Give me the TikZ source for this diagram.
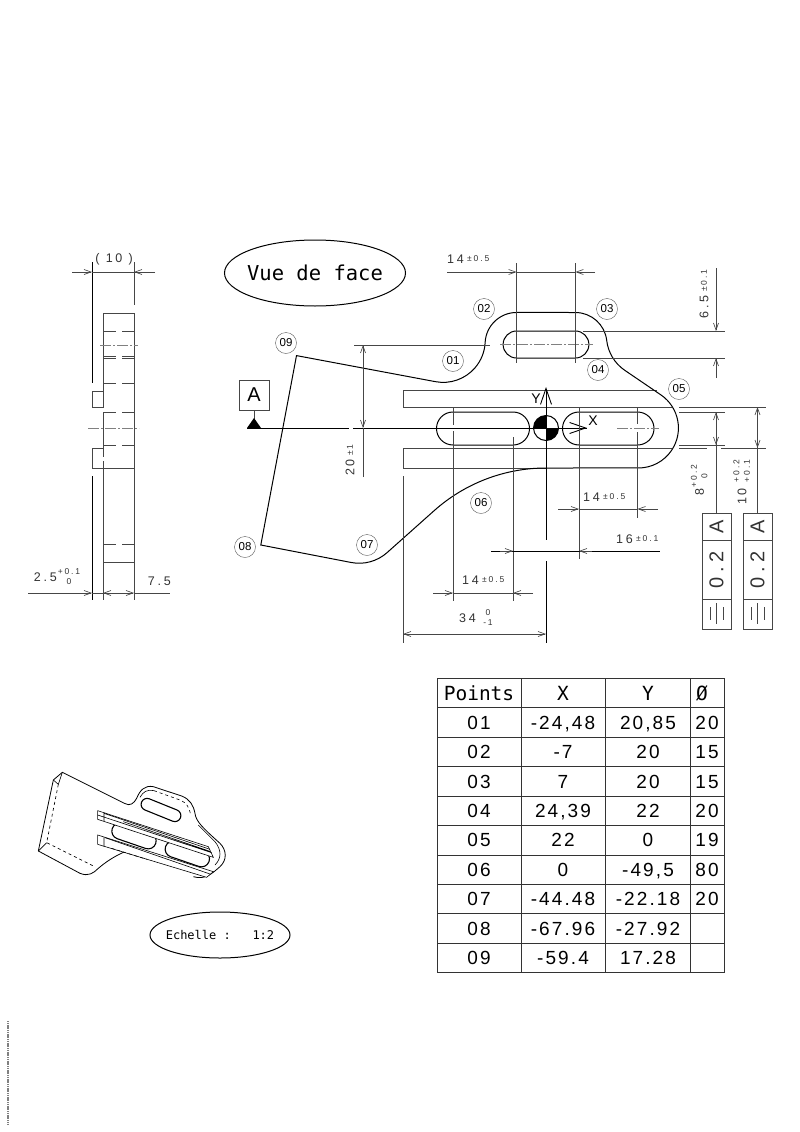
\documentclass[tikz,border=0pt]{standalone}
\usepackage{fontspec}
\setmainfont{Liberation Sans}
\newfontfamily\monoFont{DejaVu Sans Mono}
\newfontfamily\spacedFont[LetterSpace=22]{Liberation Sans}
\newfontfamily\tableFont[LetterSpace=11]{Liberation Sans}
\usetikzlibrary{arrows.meta}
\definecolor{dimColor}{RGB}{70,70,70}
\tikzstyle{drawing} = [x = 1pt, y = -1pt, line cap = butt]
\tikzstyle{partLine} = [color=black, line width=1pt]
\tikzstyle{thinLine} = [color=dimColor, line width=.65pt]
\tikzstyle{centerLine} = [color=gray, line width=.6pt, dash pattern=on 11pt off 2pt on 2pt off 2pt]
\tikzstyle{dimTip} = [color=dimColor, line width=.65pt, -{Straight Barb[length=7pt,width=5pt]}]
\tikzstyle{axisTip} = [color=black, line width=.9pt, -{Straight Barb[length=16pt,width=11pt]}]
\tikzstyle{balloonStyle} = [draw=black!65, circle, minimum size=21pt, inner sep=0pt, font=\fontsize{11.5}{12}\selectfont]
\tikzstyle{dimMain} = [color=black!80, inner sep=0pt, anchor=east, font=\fontsize{12.5}{13}\spacedFont]
\tikzstyle{dimSmall} = [color=black!80, inner sep=0pt, font=\fontsize{8.5}{9}\spacedFont]
\tikzstyle{cellText} = [inner sep=0pt, anchor=base, font=\fontsize{19}{20}\tableFont]
\tikzstyle{cellHead} = [inner sep=0pt, anchor=base, font=\fontsize{19.5}{20}\monoFont]
\tikzstyle{isoLine} = [color=black, line width=.6pt]
\tikzstyle{isoSlot} = [color=black, line width=1.1pt]
\tikzstyle{titleText} = [inner sep=0pt, font=\monoFont]
\newcommand{\balloon}[3]{\node [balloonStyle] (balloon#3) at (#1,#2) {#3};}
\newcommand{\hiddenLine}[1]{\draw [thinLine] (103,#1) -- (116,#1) (122,#1) -- (134,#1);}
\newcommand{\slotShape}[4]{\draw (#1,#3-#4) -- (#2,#3-#4) arc [start angle=-90, end angle=90, radius=#4] -- (#1,#3+#4) arc [start angle=90, end angle=270, radius=#4] -- cycle;}
\newcommand{\dimLabel}[6]{
  \begin{scope}[shift={(#1,#2)}, rotate=#3, every node/.style={transform shape}]
    \node [dimMain] (#6Main) at (0,0) {#4};
    \node [dimSmall, anchor=west] (#6Tol) at (3,0) {#5};
  \end{scope}
}
\newcommand{\stackLabel}[8]{
  \begin{scope}[shift={(#1,#2)}, rotate=#3, every node/.style={transform shape}]
    \node [dimMain] (#8Main) at (0,0) {#4};
    \node [dimSmall] (#8Upper) at (#7,-5.5) {#5};
    \node [dimSmall] (#8Lower) at (#7,5) {#6};
  \end{scope}
}
\newcommand{\toleranceBox}[2]{
  \draw [thinLine] (#1-14.5,513) rectangle (#1+14.5,629);
  \draw [thinLine] (#1-14.5,540) -- (#1+14.5,540);
  \draw [thinLine] (#1-14.5,599) -- (#1+14.5,599);
  \node [rotate=90, inner sep=0pt, color=black!80, font=\fontsize{20}{20}\selectfont] (#2Datum) at (#1,527) {A};
  \node [rotate=90, inner sep=0pt, color=black!80, font=\fontsize{20}{20}\spacedFont] (#2Value) at (#1,570) {0.2};
  \draw [thinLine] (#1-6,607) -- (#1-6,620);
  \draw [thinLine] (#1,603) -- (#1,624);
  \draw [thinLine] (#1+6.5,607) -- (#1+6.5,620);
}
\newcommand{\tableRow}[5]{
  \pgfmathsetmacro{\rowY}{678.3 + 29.43 * #1 + 21.5}
  \node [cellText] (point#1) at (479,\rowY) {#2};
  \node [cellText] (valueX#1) at (563,\rowY) {#3};
  \node [cellText] (valueY#1) at (648,\rowY) {#4};
  \node [cellText] (diam#1) at (707,\rowY) {#5};
}
\begin{document}
\begin{tikzpicture}[drawing]
  \useasboundingbox (0,0) rectangle (800,1132);

  % side view
  \draw [partLine] (92,262) -- (92,383) (92,476) -- (92,600);
  \draw [thinLine] (103,313) -- (134,313) (103,313) -- (103,408) (103,413) -- (103,457) (103,461) -- (103,600) (134,313) -- (134,600) (134,262) -- (134,305);
  \draw [thinLine] (103,391) -- (92,391) -- (92,407) -- (103,407);
  \draw [thinLine] (103,448) -- (92,448) -- (92,468) -- (134,468);
  \draw [thinLine] (103,562) -- (134,562);
  \foreach \y in {331,356,358,383,412,445,544} {
    \hiddenLine{\y}
  }
  \draw [centerLine] (100,345) -- (138,345);
  \draw [centerLine] (88,428) -- (139,428);
  \draw [thinLine] (92,272) -- (134,272);
  \draw [dimTip] (72,272) -- (92,272);
  \draw [dimTip] (155,272) -- (134,272);
  \node [dimMain] (widthLabel) at (133,259) {( 10 )};
  \draw [dimTip] (28,593) -- (92,593);
  \draw [thinLine] (92,593) -- (103,593) (134,593) -- (170,593);
  \draw [dimTip] (118,593) -- (103,593);
  \draw [dimTip] (118,593) -- (134,593);
  \stackLabel{57}{577}{0}{2.5}{+0.1}{0}{12}{lipDepth}
  \dimLabel{171}{581}{0}{7.5}{}{baseDepth}

  % front view
  \draw [partLine] (315,273) ellipse [x radius=90.5, y radius=33];
  \node [titleText, font=\fontsize{20.5}{22}\monoFont] (viewTitle) at (315,273) {Vue de face};
  \draw [thinLine] (403,407) -- (403,390.5) -- (657,390.5);
  \draw [thinLine] (403,407) -- (672,407);
  \draw [thinLine] (672,448) -- (403,448) -- (403,468) -- (546,468);
  \draw [partLine] (296.5,355.6) -- (435.4,381.65)
    arc [start angle=100.7, end angle=2.8, radius=42]
    arc [start angle=182.8, end angle=270, radius=31.5] -- (575.4,312.5)
    arc [start angle=270, end angle=353.44, radius=31.5]
    arc [start angle=173.44, end angle=124.2, radius=42] -- (660.9,394.9)
    arc [start angle=-55.8, end angle=90, radius=40] -- (546,468)
    arc [start angle=270, end angle=228.3, radius=168] -- (387.1,552.6)
    arc [start angle=48.3, end angle=101, radius=42] -- (260.8,545) -- cycle;
  \begin{scope}[partLine]
    \slotShape{516.6}{575.4}{344.5}{13.5}
    \slotShape{453}{513}{428.5}{16.5}
    \slotShape{579}{637.5}{428.5}{16.5}
  \end{scope}
  \draw [centerLine] (500,344.5) -- (593,344.5);
  \draw [partLine] (247,428) -- (349,428) (353,428) -- (587,428);
  \draw [centerLine] (617,428) -- (659,428);
  \draw [thinLine] (254,410) -- (254,420);
  \draw [thinLine] (239,380) rectangle (269,410);
  \node [inner sep=0pt, font=\fontsize{20}{20}\selectfont] (datumLabel) at (254,395) {A};
  \fill (254,418) -- (261,428) -- (247,428) -- cycle;
  \draw [axisTip] (546,403) -- (546,387);
  \draw [thinLine, color=black] (546,403) -- (546,540) (546,561) -- (546,643);
  \draw [axisTip] (570,428) -- (587,428);
  \node [inner sep=0pt, font=\fontsize{14}{14}\selectfont] (axisY) at (536,399) {Y};
  \node [inner sep=0pt, font=\fontsize{14}{14}\selectfont] (axisX) at (593,421) {X};
  \draw [partLine] (546,428) circle (12.5);
  \fill (546,428) -- (533.5,428) arc [start angle=180, end angle=270, radius=12.5] -- cycle;
  \fill (546,428) -- (558.5,428) arc [start angle=0, end angle=90, radius=12.5] -- cycle;

  % dimensions of the front view
  \draw [thinLine] (516.6,263) -- (516.6,363) (575.4,263) -- (575.4,363);
  \draw [thinLine] (516.6,272) -- (575.4,272);
  \draw [dimTip] (447,272) -- (516.6,272);
  \draw [dimTip] (595,272) -- (575.4,272);
  \dimLabel{464}{259}{0}{14}{±0.5}{slotWidth}
  \draw [thinLine] (583,331) -- (725,331) (583,358) -- (725,358);
  \draw [dimTip] (716,268) -- (716,331);
  \draw [dimTip] (716,378) -- (716,358);
  \dimLabel{704}{295}{90}{6.5}{±0.1}{slotHeight}
  \draw [thinLine] (354,345) -- (490,345);
  \draw [thinLine] (363,477) -- (363,428);
  \draw [dimTip] (363,385) -- (363,345);
  \draw [dimTip] (363,385) -- (363,428);
  \dimLabel{350}{459}{90}{20}{±1}{holeHeight}
  \draw [thinLine] (453,407) -- (453,425) (453,431) -- (453,601) (513,437) -- (513,601);
  \draw [thinLine] (453,593) -- (513,593);
  \draw [dimTip] (433,593) -- (453,593);
  \draw [dimTip] (533,593) -- (513,593);
  \dimLabel{479}{580}{0}{14}{±0.5}{leftSlot}
  \draw [thinLine] (579,407) -- (579,559) (637.5,408) -- (637.5,424) (637.5,432) -- (637.5,518);
  \draw [thinLine] (579,509) -- (637.5,509);
  \draw [dimTip] (558,509) -- (579,509);
  \draw [dimTip] (658,509) -- (637.5,509);
  \dimLabel{600}{497}{0}{14}{±0.5}{rightSlot}
  \draw [thinLine, color=black] (491,551) -- (660,551);
  \draw [dimTip] (500,551) -- (513,551);
  \draw [dimTip] (592,551) -- (579,551);
  \dimLabel{633}{539}{0}{16}{±0.1}{slotOffset}
  \draw [thinLine] (403,476) -- (403,643);
  \draw [dimTip] (475,634) -- (403,634);
  \draw [dimTip] (475,634) -- (546,634);
  \stackLabel{476}{618}{0}{34}{0}{-1}{12}{railLength}
  \draw [thinLine] (679,407) -- (766,407) (679,412) -- (725,412) (679,445) -- (725,445) (679,448) -- (707,448) (721,448) -- (766,448);
  \draw [thinLine] (716,430) -- (716,513) (757.5,430) -- (757.5,513);
  \draw [dimTip] (716,430) -- (716,412);
  \draw [dimTip] (716,430) -- (716,445);
  \draw [dimTip] (757.5,430) -- (757.5,407);
  \draw [dimTip] (757.5,430) -- (757.5,448);
  \stackLabel{699.5}{488}{90}{8}{+0.2}{0}{12}{innerGap}
  \stackLabel{742}{488}{90}{10}{+0.2}{+0.1}{17}{outerGap}
  \toleranceBox{716.5}{innerTol}
  \toleranceBox{757.5}{outerTol}
  \balloon{286}{343}{09}
  \balloon{453}{361}{01}
  \balloon{484}{309}{02}
  \balloon{607}{309}{03}
  \balloon{598}{370}{04}
  \balloon{679}{389}{05}
  \balloon{481}{503}{06}
  \balloon{367}{545}{07}
  \balloon{245}{547}{08}

  % table of points
  \foreach \rowLine in {0,...,10} {
    \pgfmathsetmacro{\lineY}{678.3 + 29.43 * \rowLine}
    \draw [thinLine, color=black!80] (437,\lineY) -- (724,\lineY);
  }
  \foreach \colLine in {437,521,605.7,690,724} {
    \draw [thinLine, color=black!80] (\colLine,678.3) -- (\colLine,972.6);
  }
  \node [cellHead] (headPoints) at (479,700) {Points};
  \node [cellHead] (headX) at (563,700) {X};
  \node [cellHead] (headY) at (648,700) {Y};
  \node [cellHead] (headDiam) at (702,700) {Ø};
  \tableRow{1}{01}{-24,48}{20,85}{20}
  \tableRow{2}{02}{-7}{20}{15}
  \tableRow{3}{03}{7}{20}{15}
  \tableRow{4}{04}{24,39}{22}{20}
  \tableRow{5}{05}{22}{0}{19}
  \tableRow{6}{06}{0}{-49,5}{80}
  \tableRow{7}{07}{-44.48}{-22.18}{20}
  \tableRow{8}{08}{-67.96}{-27.92}{}
  \tableRow{9}{09}{-59.4}{17.28}{}

  % perspective view
  \begin{scope}[shift={(30,750)}, x=.3333pt, y=-.3333pt]
    \begin{scope}[isoSlot, rotate around={-22:(393,180)}]
      \slotShape{348}{438}{180}{18}
    \end{scope}
    \begin{scope}[isoSlot, rotate around={-19:(312,258)}]
      \slotShape{267}{357}{258}{24}
    \end{scope}
    \begin{scope}[isoSlot, rotate around={-19:(472,312)}]
      \slotShape{427}{517}{312}{24}
    \end{scope}
    \draw [isoLine, line width=.8pt] (25,303) -- (70,90) -- (97,67) -- (283,160)
      .. controls (300,170) and (312,160) .. (320,145)
      .. controls (330,120) and (345,105) .. (370,110) -- (455,138)
      .. controls (480,148) and (490,165) .. (495,190)
      .. controls (498,215) and (520,235) .. (570,280)
      .. controls (590,300) and (592,330) .. (570,350)
      .. controls (545,372) and (525,390) .. (490,380);
    \draw [isoLine, line width=.8pt] (25,303) -- (150,370)
      .. controls (175,380) and (190,370) .. (205,355)
      .. controls (225,338) and (250,320) .. (285,305);
    \draw [isoLine] (70,90) -- (85,103) -- (97,67);
    \draw [isoLine, dashed] (85,103) -- (50,278) -- (190,348);
    \draw [isoLine] (25,303) -- (50,278);
    \draw [isoLine, fill=white] (203,182) -- (203,208) -- (550,322) -- (535,290) -- cycle;
    \draw [isoLine] (222,188) -- (222,214) (222,190) -- (540,298) (203,195) -- (545,308) (280,215) -- (540,304);
    \draw [isoLine, fill=white] (203,255) -- (203,283) -- (530,382) -- (550,365) -- cycle;
    \draw [isoLine] (222,262) -- (222,290) (225,263) -- (540,372);
    \draw [isoLine, dashed] (245,295) -- (350,328);
    \draw [isoLine] (330,142) .. controls (340,125) and (350,118) .. (372,122);
    \draw [isoLine, dashed] (372,122) -- (450,150) .. controls (470,158) and (478,172) .. (482,195);
    \draw [isoLine] (505,225) -- (555,275) .. controls (575,300) and (575,325) .. (555,345);
  \end{scope}
  \draw [partLine] (220,935) ellipse [x radius=70, y radius=23];
  \node [titleText, font=\fontsize{12}{13}\monoFont] (scaleTitle) at (220,935) {Echelle :\ \ \ 1:2};

  % tiny note on the page edge
  \draw [color=gray, line width=2pt, dash pattern=on 1.2pt off .6pt] (8,1021) -- (8,1125);
\end{tikzpicture}
\end{document}
